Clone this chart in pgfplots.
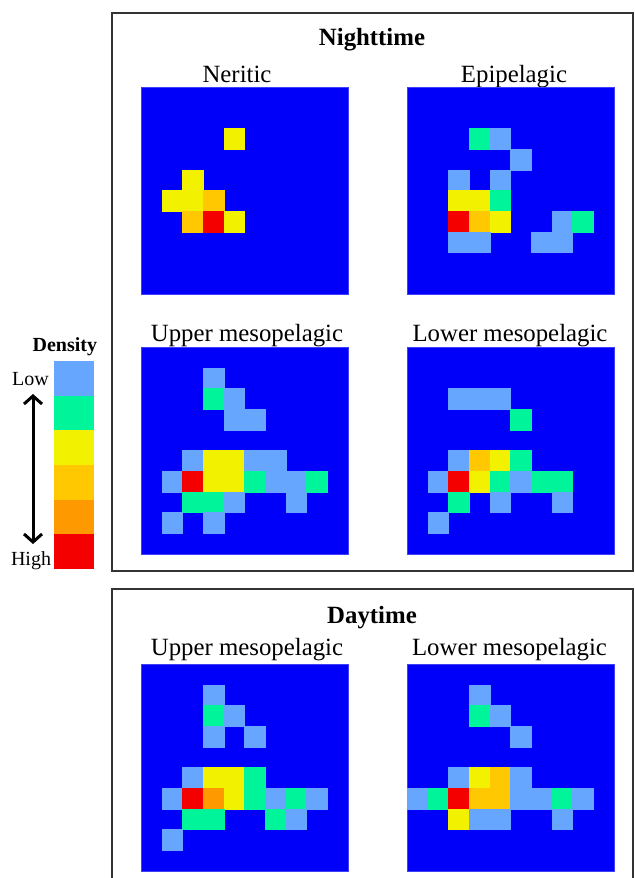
\documentclass[border=0pt]{standalone}
\usepackage{fontspec}
\setmainfont{Liberation Serif}
\usepackage{pgfplots}
\pgfplotsset{compat=1.18}
\usetikzlibrary{arrows.meta}
\definecolor{bg}{HTML}{0000FA}
\definecolor{c1}{HTML}{66A6FF}
\definecolor{c2}{HTML}{00F59B}
\definecolor{c3}{HTML}{F2F200}
\definecolor{c4}{HTML}{FFC800}
\definecolor{c5}{HTML}{FF9900}
\definecolor{c6}{HTML}{F50000}
\pgfplotsset{
  panel/.style={
    scale only axis, width=103.5pt, height=103.5pt,
    xmin=-0.5, xmax=9.5, ymin=-0.5, ymax=9.5, y dir=reverse,
    ticks=none, anchor=north west,
    axis background/.style={fill=bg},
    axis line style={draw=bg!75!white, line width=0.4pt},
    scatter/classes={
      1={fill=c1,draw=c1},
      2={fill=c2,draw=c2},
      3={fill=c3,draw=c3},
      4={fill=c4,draw=c4},
      5={fill=c5,draw=c5},
      6={fill=c6,draw=c6}},
  },
}
\newcommand{\ttl}{\fontsize{12.4}{14}\selectfont}
\newcommand{\lgd}{\fontsize{10}{12}\selectfont}
\begin{document}
\begin{tikzpicture}
\path[use as bounding box] (0,0) rectangle (317.5pt,-439pt);
% boxes
\draw[line width=1pt, draw=black!80] (56pt,-6.5pt) rectangle (316.5pt,-285.5pt);
\draw[line width=1pt, draw=black!80] (56pt,-445pt) -- (56pt,-294.5pt) -- (316.5pt,-294.5pt) -- (316.5pt,-445pt);
% titles
\node[anchor=base, font=\ttl\bfseries] at (186pt,-23pt) {Nighttime};
\node[anchor=base, font=\ttl] at (118.5pt,-41.2pt) {Neritic};
\node[anchor=base, font=\ttl] at (257pt,-41.2pt) {Epipelagic};
\node[anchor=base, font=\ttl] at (123.5pt,-170.5pt) {Upper mesopelagic};
\node[anchor=base, font=\ttl] at (255pt,-170.5pt) {Lower mesopelagic};
\node[anchor=base, font=\ttl\bfseries] at (186pt,-311.5pt) {Daytime};
\node[anchor=base, font=\ttl] at (123.5pt,-327.8pt) {Upper mesopelagic};
\node[anchor=base, font=\ttl] at (254.75pt,-327.8pt) {Lower mesopelagic};
% legend
\node[anchor=base, font=\lgd\bfseries] at (32.4pt,-175.5pt) {Density};
\fill[c1] (27pt,-180.5pt) rectangle (47pt,-197.83pt);
\fill[c2] (27pt,-197.83pt) rectangle (47pt,-215.17pt);
\fill[c3] (27pt,-215.17pt) rectangle (47pt,-232.5pt);
\fill[c4] (27pt,-232.5pt) rectangle (47pt,-249.83pt);
\fill[c5] (27pt,-249.83pt) rectangle (47pt,-267.17pt);
\fill[c6] (27pt,-267.17pt) rectangle (47pt,-284.5pt);
\node[anchor=base, font=\lgd] at (15.25pt,-192.5pt) {Low};
\node[anchor=base, font=\lgd] at (15.5pt,-282.5pt) {High};
\draw[line width=1.5pt, {Straight Barb[length=4pt,width=9pt]}-{Straight Barb[length=4pt,width=9pt]}] (16.5pt,-197pt) -- (16.5pt,-272pt);

% Neritic
\begin{axis}[panel, at={(70.5pt,-43.5pt)}]
\addplot[scatter, only marks, mark=square*, mark size=5.175pt, scatter src=explicit symbolic, mark options={line width=0.2pt}] table[meta=c] {
x y c
4 2 3
2 4 3
1 5 3
2 5 3
3 5 4
2 6 4
3 6 6
4 6 3
};
\end{axis}
% Epipelagic
\begin{axis}[panel, at={(203.5pt,-43.5pt)}]
\addplot[scatter, only marks, mark=square*, mark size=5.175pt, scatter src=explicit symbolic, mark options={line width=0.2pt}] table[meta=c] {
x y c
3 2 2
4 2 1
5 3 1
2 4 1
4 4 1
2 5 3
3 5 3
4 5 2
2 6 6
3 6 4
4 6 3
7 6 1
8 6 2
2 7 1
3 7 1
6 7 1
7 7 1
};
\end{axis}
% Upper mesopelagic (night)
\begin{axis}[panel, at={(70.5pt,-173.5pt)}]
\addplot[scatter, only marks, mark=square*, mark size=5.175pt, scatter src=explicit symbolic, mark options={line width=0.2pt}] table[meta=c] {
x y c
3 1 1
3 2 2
4 2 1
4 3 1
5 3 1
2 5 1
3 5 3
4 5 3
5 5 1
6 5 1
1 6 1
2 6 6
3 6 3
4 6 3
5 6 2
6 6 1
7 6 1
8 6 2
2 7 2
3 7 2
4 7 1
7 7 1
1 8 1
3 8 1
};
\end{axis}
% Lower mesopelagic (night)
\begin{axis}[panel, at={(203.5pt,-173.5pt)}]
\addplot[scatter, only marks, mark=square*, mark size=5.175pt, scatter src=explicit symbolic, mark options={line width=0.2pt}] table[meta=c] {
x y c
2 2 1
3 2 1
4 2 1
5 3 2
2 5 1
3 5 4
4 5 3
5 5 2
1 6 1
2 6 6
3 6 3
4 6 2
5 6 1
6 6 2
7 6 2
2 7 2
4 7 1
7 7 1
1 8 1
};
\end{axis}
% Upper mesopelagic (day)
\begin{axis}[panel, at={(70.5pt,-332pt)}]
\addplot[scatter, only marks, mark=square*, mark size=5.175pt, scatter src=explicit symbolic, mark options={line width=0.2pt}] table[meta=c] {
x y c
3 1 1
3 2 2
4 2 1
3 3 1
5 3 1
2 5 1
3 5 3
4 5 3
5 5 2
1 6 1
2 6 6
3 6 5
4 6 3
5 6 2
6 6 1
7 6 2
8 6 1
2 7 2
3 7 2
6 7 2
7 7 1
1 8 1
};
\end{axis}
% Lower mesopelagic (day)
\begin{axis}[panel, at={(203.5pt,-332pt)}]
\addplot[scatter, only marks, mark=square*, mark size=5.175pt, scatter src=explicit symbolic, mark options={line width=0.2pt}] table[meta=c] {
x y c
3 1 1
3 2 2
4 2 1
5 3 1
2 5 1
3 5 3
4 5 4
5 5 1
0 6 1
1 6 2
2 6 6
3 6 4
4 6 4
5 6 1
6 6 1
7 6 2
8 6 1
2 7 3
3 7 1
4 7 1
7 7 1
};
\end{axis}
\end{tikzpicture}
\end{document}
